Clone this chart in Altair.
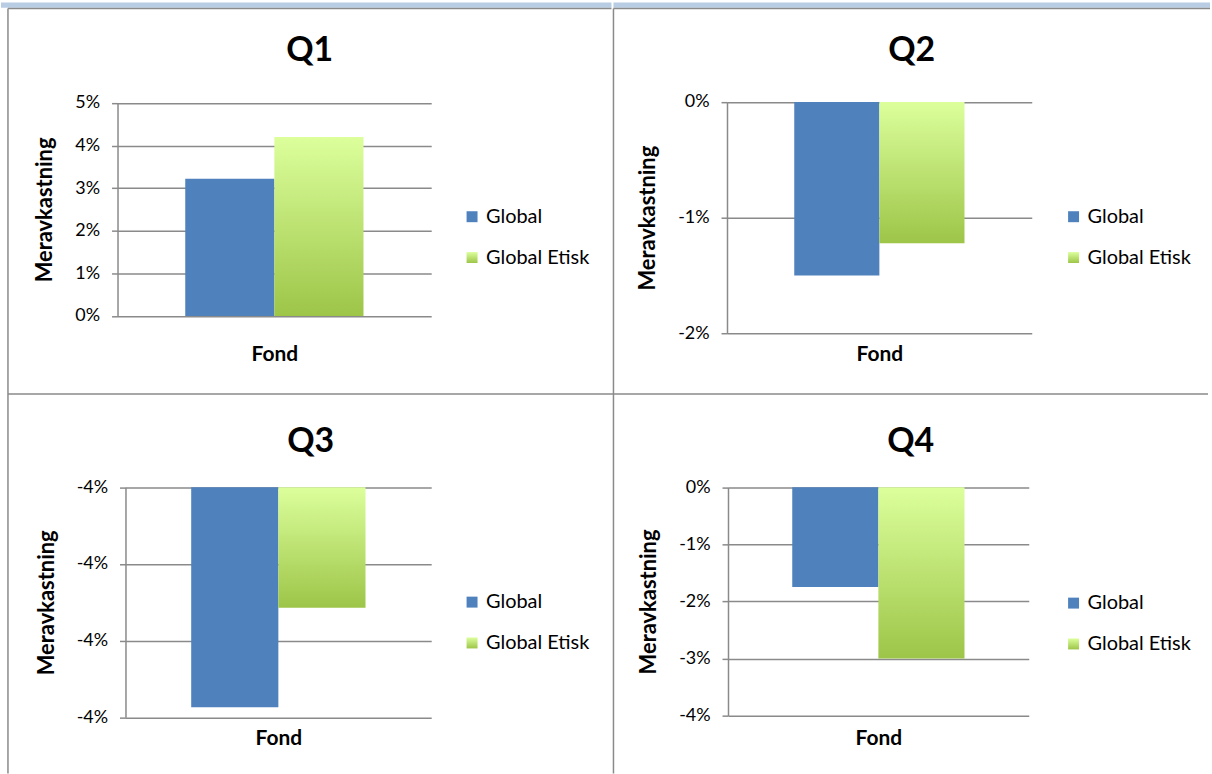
import altair as alt
import pandas as pd

# --- data -----------------------------------------------------------------
series = ["Global", "Global Etisk"]
fund = "Fond"

quarters = ["Q1", "Q2", "Q3", "Q4"]
# excess return (percent) per quarter, [Global, Global Etisk]
q1_values = [3.22, 4.20]
q2_values = [-1.50, -1.22]
q3_values = [-3.887, -3.757]
q4_values = [-1.745, -3.00]
values = [q1_values, q2_values, q3_values, q4_values]

# y-axis tick values (percent) per quarter
q1_ticks = [0, 1, 2, 3, 4, 5]
q2_ticks = [0, -1, -2]
q3_ticks = [-3.6, -3.7, -3.8, -3.9]
q4_ticks = [0, -1, -2, -3, -4]
ticks = [q1_ticks, q2_ticks, q3_ticks, q4_ticks]

# value the bars hang from
baselines = [0, 0, -3.6, 0]

# --- styling ----------------------------------------------------------------
FONT = "Lato"
GREY = "#8a8a8a"
BLUE = "#4F81BD"
STRIP = "#B8CCE4"
GREEN_GRADIENT = (
    "{gradient: 'linear', x1: 0, y1: 0, x2: 0, y2: 1, "
    "stops: [{offset: 0, color: '#DCFF9C'}, {offset: 1, color: '#9DC548'}]}"
)

# panel geometry: panel size, plot-area x span, plot-area y span (bottom, top),
# outer band padding, legend position
panels = [
    dict(w=606, h=387, xr=(110, 425), yr=(308.7, 94.7), pad=0.38, leg=(456, 199)),
    dict(w=599, h=387, xr=(114, 420), yr=(326.3, 93.7), pad=0.395, leg=(452, 199)),
    dict(w=608, h=381, xr=(118, 425), yr=(324.7, 93.7), pad=0.377, leg=(456, 199)),
    dict(w=597, h=381, xr=(115, 417), yr=(323.0, 93.7), pad=0.373, leg=(452, 200)),
]

label_expr = "(datum.value < 0 ? '-' : '') + format(abs(datum.value), '.0f') + '%'"


def quarter_panel(i, top_row):
    p = panels[i]
    df = pd.DataFrame({"fund": fund, "series": series, "value": values[i]})
    lo, hi = min(ticks[i]), max(ticks[i])
    title_y = 336 if top_row else 335

    bars = alt.Chart(df).mark_bar().encode(
        x=alt.X(
            "fund:N",
            scale=alt.Scale(range=list(p["xr"]), paddingInner=0, paddingOuter=p["pad"]),
            axis=alt.Axis(
                title=fund, labels=False, ticks=False, domain=False, grid=False,
                offset=title_y - p["h"], titlePadding=0,
                titleFont=FONT, titleFontSize=21, titleFontWeight="bold",
                titleColor="black", titleBaseline="top",
            ),
        ),
        xOffset=alt.XOffset(
            "series:N", sort=series,
            scale=alt.Scale(paddingInner=0, paddingOuter=0),
        ),
        y=alt.Y(
            "value:Q",
            scale=alt.Scale(domain=[lo, hi], range=list(p["yr"]), nice=False, zero=False),
            axis=alt.Axis(
                values=ticks[i], labelExpr=label_expr,
                title="Meravkastning", offset=-p["xr"][0],
                grid=True, gridColor=GREY, gridWidth=1.5,
                domainColor=GREY, domainWidth=1.5,
                tickColor=GREY, tickWidth=1.5, tickSize=6,
                labelFont=FONT, labelFontSize=18, labelColor="black", labelPadding=12,
                titleFont=FONT, titleFontSize=22, titleFontWeight="bold",
                titleColor="black", titlePadding=18,
            ),
        ),
        y2=alt.datum(baselines[i]),
        color=alt.Color(
            "series:N", sort=series,
            scale=alt.Scale(domain=series, range=[BLUE, {"expr": GREEN_GRADIENT}]),
            legend=alt.Legend(
                title=None, orient="none", legendX=p["leg"][0], legendY=p["leg"][1],
                symbolType="square", symbolSize=121, symbolStrokeWidth=0,
                labelFont=FONT, labelFontSize=20, labelColor="black",
                labelOffset=4, rowPadding=21, padding=0,
            ),
        ),
    )

    # panel frame: left and top edges (neighbouring panels supply the rest)
    frame_src = pd.DataFrame({"edge": [0]})
    left_edge = alt.Chart(frame_src).mark_rule(color=GREY, strokeWidth=1.5).encode(
        x=alt.value(0), y=alt.value(0), y2=alt.value(p["h"])
    )
    top_edge = alt.Chart(frame_src).mark_rule(color=GREY, strokeWidth=1.5).encode(
        x=alt.value(0), x2=alt.value(p["w"]), y=alt.value(0)
    )

    layers = [bars, left_edge, top_edge]
    if top_row:
        strip = alt.Chart(frame_src).mark_rect(color=STRIP).encode(
            x=alt.value(-7 if i == 0 else 0),
            x2=alt.value(p["w"]),
            y=alt.value(-6),
            y2=alt.value(-0.75),
        )
        layers = [strip] + layers

    return alt.layer(*layers).properties(
        width=p["w"], height=p["h"],
        title=alt.Title(
            quarters[i], font=FONT, fontSize=34, fontWeight="bold", color="black",
            anchor="middle", frame="group", baseline="alphabetic", offset=0, dy=93,
        ),
    )


chart = alt.concat(
    quarter_panel(0, True), quarter_panel(1, True),
    quarter_panel(2, False), quarter_panel(3, False),
    columns=2, spacing=0, align="none", bounds="flush",
).resolve_scale(
    x="independent", y="independent", xOffset="independent", color="independent"
).resolve_axis(
    x="independent", y="independent"
).resolve_legend(
    color="independent"
).configure_view(
    stroke="transparent", fill="white"
).properties(
    padding=0, background="white"
)

chart.save("out.html", embed_options={"renderer": "svg", "actions": False})
